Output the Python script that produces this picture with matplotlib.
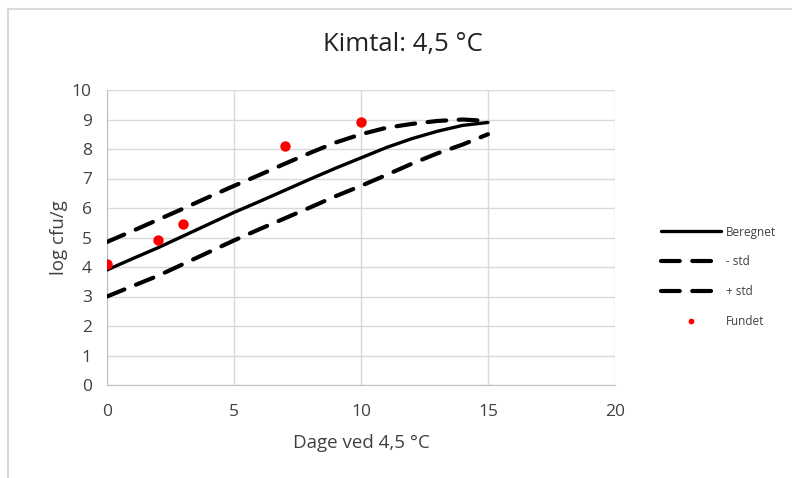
import matplotlib
matplotlib.use("Agg")
import matplotlib.pyplot as plt
from matplotlib.lines import Line2D

# Data
days_curve = [0, 1, 2, 3, 4, 5, 6, 7, 8, 9, 10, 11, 12, 13, 14, 15]
beregnet = [3.9, 4.28, 4.65, 5.05, 5.45, 5.85, 6.22, 6.6, 6.98, 7.35, 7.7, 8.05, 8.35, 8.6, 8.8, 8.9]
minus_std = [4.85, 5.22, 5.6, 5.98, 6.37, 6.75, 7.12, 7.5, 7.87, 8.22, 8.5, 8.72, 8.85, 8.95, 9.0, 8.95]
plus_std = [3.0, 3.35, 3.7, 4.1, 4.5, 4.9, 5.28, 5.65, 6.02, 6.4, 6.75, 7.12, 7.5, 7.85, 8.15, 8.5]
days_found = [0, 2, 3, 7, 10]
fundet = [4.1, 4.9, 5.45, 8.1, 8.9]

xticks = [0, 5, 10, 15, 20]
yticks = list(range(0, 11))

plt.rcParams['font.family'] = ['Open Sans', 'DejaVu Sans']

fig = plt.figure(figsize=(7.92, 4.78), dpi=100)
ax = fig.add_axes([107/792, 1-385/478, (615-107)/792, (385-90)/478])

dash = (4.5, 3)
ax.plot(days_curve, beregnet, color='black', lw=2.4, solid_capstyle='round', label='Beregnet', zorder=3)
ax.plot(days_curve, minus_std, color='black', lw=3, dashes=dash, dash_capstyle='round', label='- std', zorder=3)
ax.plot(days_curve, plus_std, color='black', lw=3, dashes=dash, dash_capstyle='round', label='+ std', zorder=3)
ax.plot(days_found, fundet, 'o', color='#ff0000', ms=7.5, mec='none', label='Fundet', zorder=4)

ax.set_xlim(0, 20)
ax.set_ylim(0, 10)
ax.set_xticks(xticks)
ax.set_yticks(yticks)
ax.grid(True, color='#d9d9d9', lw=1)
ax.set_axisbelow(True)
for s in ['top', 'right']:
    ax.spines[s].set_visible(False)
for s in ['left', 'bottom']:
    ax.spines[s].set_color('#bfbfbf')
ax.tick_params(length=0, labelsize=12.5, colors='#404040')
ax.tick_params(axis='x', pad=14)
ax.tick_params(axis='y', pad=11)
ax.set_xlabel('Dage ved 4,5 °C', fontsize=13.5, color='#404040', labelpad=10)
ax.set_ylabel('log cfu/g', fontsize=13.5, color='#404040', labelpad=3)
fig.text(403/792, 1-45/478, 'Kimtal: 4,5 °C', fontsize=18.5, color='#222222', ha='center', va='center')

leg = ax.legend(loc='upper left', bbox_to_anchor=(650/792, 1-215/478), bbox_transform=fig.transFigure,
                frameon=False, fontsize=8.5, handlelength=5.1, handletextpad=0.4,
                labelspacing=1.42, markerscale=0.55)
for t in leg.get_texts():
    t.set_color('#404040')

# outer border (top and left edges visible)
fig.add_artist(Line2D([8/792, 1], [1-9/478, 1-9/478], transform=fig.transFigure, color='#d9d9d9', lw=1.5))
fig.add_artist(Line2D([8/792, 8/792], [0, 1-9/478], transform=fig.transFigure, color='#d9d9d9', lw=1.5))

fig.savefig('out.png', dpi=100)
